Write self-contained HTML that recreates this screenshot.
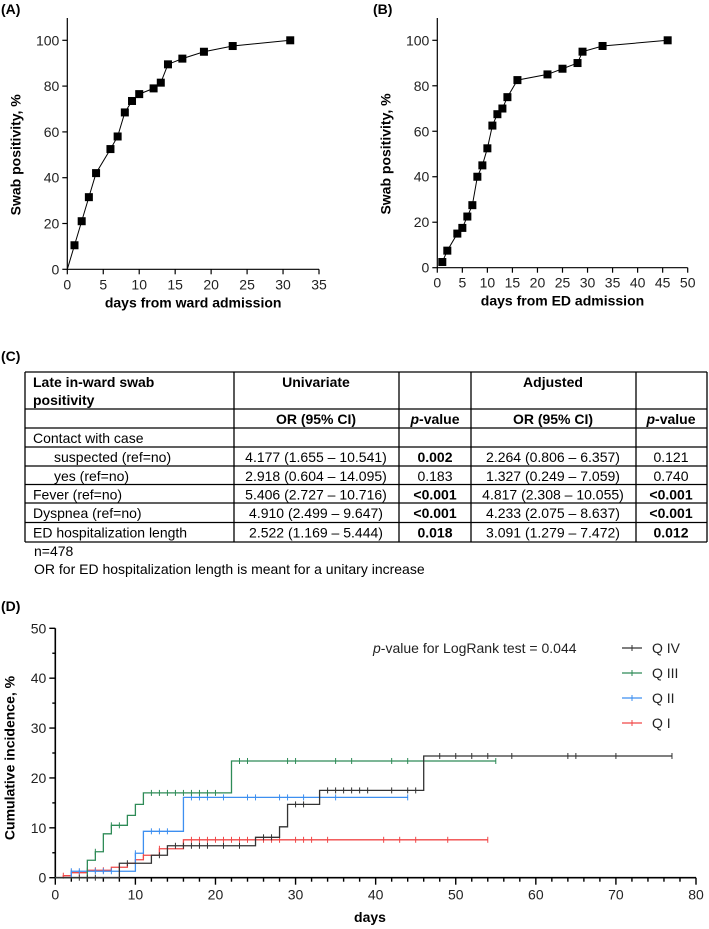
<!DOCTYPE html>
<html><head><meta charset="utf-8"><style>
html,body{margin:0;padding:0;background:#fff;}
svg{display:block;font-family:"Liberation Sans",Arial,sans-serif;}
</style></head><body>
<svg id="fig" width="709" height="929" viewBox="0 0 709 929">
<g id="A"></g>
<g id="B"></g>
<g id="C"></g>
<g id="D"></g>
</svg>
<script>
// Panel A data
const aDays = [1,2,3,4,6,7,8,9,10,12,13,14,16,19,23,31];
const aPos = [10.5,21,31.5,42,52.5,58,68.5,73.5,76.5,79,81.5,89.5,92,95,97.5,100];
const aXTicks = [0,5,10,15,20,25,30,35];
const yTicksAB = [0,20,40,60,80,100];
// Panel B data
const bDays = [1,2,4,5,6,7,8,9,10,11,12,13,14,16,22,25,28,29,33,46];
const bPos = [2.5,7.5,15,17.5,22.5,27.5,40,45,52.5,62.5,67.5,70,75,82.5,85,87.5,90,95,97.5,100];
const bXTicks = [0,5,10,15,20,25,30,35,40,45,50];
// Panel D data (step times and cumulative incidence)
const q4Times = [8,12,14,25,28,29,33,46];
const q4Vals = [2.9,4.5,6.4,8.1,10.2,14.7,17.5,24.4];
const q4End = 77;
const q4Cens = [3,4,5,9,13,15,16,17,18,19,21,23,26,27,30,31,34,35,36,37,38,39,42,44,45,48,50,52,54,57,64,65,70,77];
const q3Times = [4,5,6,7,9,10,11,22];
const q3Vals = [3.5,5.2,8.8,10.5,12.5,14.7,17,23.4];
const q3End = 55;
const q3Cens = [5,7,8,12,13,14,15,16,17,18,19,20,23,24,29,30,35,37,42,44,55];
const q2Times = [2,10,11,16];
const q2Vals = [1.3,4.9,9.3,16.1];
const q2End = 44;
const q2Cens = [2,3,4,5,6,7,10,12,13,14,17,18,19,21,24,25,28,29,31,33,35,44];
const q1Times = [1,2,4,7,9,10,11,13,16];
const q1Vals = [0.4,1.0,1.5,2.1,2.9,3.6,4.5,5.8,7.6];
const q1End = 54;
const q1Cens = [1,2,3,4,5,6,8,11,13,17,18,19,20,21,22,23,24,26,27,28,30,31,32,34,41,43,45,49,54];
const dXTicks = [0,10,20,30,40,50,60,70,80];
const dYTicks = [0,10,20,30,40,50];

const NS="http://www.w3.org/2000/svg";
function mk(parent,tag,attrs,txt){const e=document.createElementNS(NS,tag);for(const k in attrs)e.setAttribute(k,attrs[k]);if(txt!==undefined)e.textContent=txt;parent.appendChild(e);return e;}

function scatterPanel(g,label,labelX,x0,x1,xmax,y0,y100,ytop,days,vals,xt,xtitle,startOrigin){
  const sx=d=>x0+(x1-x0)*d/xmax, sy=v=>y0-(y0-y100)*v/100;
  let t=mk(g,'text',{x:labelX,y:14,'font-size':14,'font-weight':'bold'},label);
  
  
  let ax=mk(g,'path',{d:`M${x0},${ytop}V${y0}H${x1}`,stroke:'#000','stroke-width':1.2,fill:'none'});
  
  
  yTicksAB.forEach(v=>{
    const tk=mk(g,'line',{x1:x0-5,x2:x0,y1:sy(v),y2:sy(v),stroke:'#000','stroke-width':1.2});
    
    
    const tl=mk(g,'text',{x:x0-8,y:sy(v)+5,'font-size':14,'text-anchor':'end',fill:'#222'},v);
    
    
  });
  xt.forEach(v=>{
    const tk=mk(g,'line',{x1:sx(v),x2:sx(v),y1:y0,y2:y0+5,stroke:'#000','stroke-width':1.2});
    
    
    const tl=mk(g,'text',{x:sx(v),y:y0+20,'font-size':14,'text-anchor':'middle',fill:'#222'},v);
    
    
  });
  const yt=mk(g,'text',{transform:`translate(${x0-47},${(y0+y100)/2}) rotate(-90)`,'font-size':14,'font-weight':'bold','text-anchor':'middle'},'Swab positivity, %');
  
  
  const xtt=mk(g,'text',{x:(x0+x1)/2,y:y0+38,'font-size':14,'font-weight':'bold','text-anchor':'middle'},xtitle);
  
  
  let d=startOrigin?`M${sx(0)},${sy(0)}`:'';
  days.forEach((x,i)=>{d+=(d?'L':'M')+sx(x)+','+sy(vals[i]);});
  const ln=mk(g,'path',{d:d,stroke:'#000','stroke-width':1,fill:'none'});
  
  
  days.forEach((x,i)=>{
    const r=mk(g,'rect',{x:sx(x)-4,y:sy(vals[i])-4,width:8,height:8,fill:'#000'});
    
    
  });
}
scatterPanel(document.getElementById('A'),'(A)',1,67.3,319,35,269.3,40.3,18,aDays,aPos,aXTicks,'days from ward admission',true);
scatterPanel(document.getElementById('B'),'(B)',373,437.3,687.7,50,267.7,40.3,18,bDays,bPos,bXTicks,'days from ED admission',false);

// Panel C table
(function(){
  const g=document.getElementById('C');
  const L=mk(g,'text',{x:1,y:361,'font-size':14,'font-weight':'bold'},'(C)');
  
  
  const cols=[25,234,399,471,636,707];
  const rows=[372,409,428,447,466,484.5,503,522.5,542];
  rows.forEach(y=>{const l=mk(g,'line',{x1:25,x2:707,y1:y,y2:y,stroke:'#000','stroke-width':1.3});});
  cols.forEach(x=>{const l=mk(g,'line',{x1:x,x2:x,y1:372,y2:542,stroke:'#000','stroke-width':1.3});});
  function cell(txt,x,y,anchor,bold,name){
    const t=mk(g,'text',{x:x,y:y,'font-size':14,'text-anchor':anchor,'font-weight':bold?'bold':'normal'});
    t.innerHTML=txt;
    
    
  }
  cell('Late in-ward swab',33,387,'start',1,'table-title');
  cell('positivity',33,405,'start',1,'table-title');
  cell('Univariate',316,387,'middle',1,'header-univariate');
  cell('Adjusted',553,387,'middle',1,'header-adjusted');
  cell('OR (95% CI)',316,424,'middle',1,'header-or');
  cell('<tspan font-style="italic">p</tspan>-value',435,424,'middle',1,'header-pvalue');
  cell('OR (95% CI)',553,424,'middle',1,'header-or');
  cell('<tspan font-style="italic">p</tspan>-value',671,424,'middle',1,'header-pvalue');
  const data=[
    ['Contact with case','','','','',0,0,0],
    ['suspected (ref=no)','4.177 (1.655 – 10.541)','0.002','2.264 (0.806 – 6.357)','0.121',1,1,0],
    ['yes (ref=no)','2.918 (0.604 – 14.095)','0.183','1.327 (0.249 – 7.059)','0.740',1,0,0],
    ['Fever (ref=no)','5.406 (2.727 – 10.716)','&lt;0.001','4.817 (2.308 – 10.055)','&lt;0.001',0,1,1],
    ['Dyspnea (ref=no)','4.910 (2.499 – 9.647)','&lt;0.001','4.233 (2.075 – 8.637)','&lt;0.001',0,1,1],
    ['ED hospitalization length','2.522 (1.169 – 5.444)','0.018','3.091 (1.279 – 7.472)','0.012',0,1,1]];
  data.forEach((r,i)=>{
    const y=rows[i+2]+15;
    cell(r[0],r[5]?54:33,y,'start',0,'row-label');
    cell(r[1],316,y,'middle',0,'univariate-or');
    cell(r[2],435,y,'middle',r[6],'univariate-p');
    cell(r[3],553,y,'middle',0,'adjusted-or');
    cell(r[4],671,y,'middle',r[7],'adjusted-p');
  });
  cell('n=478',34,556,'start',0,'table-note-n');
  cell('OR for ED hospitalization length is meant for a unitary increase',34,574,'start',0,'table-note-or');
})();

// Panel D KM
(function(){
  const g=document.getElementById('D');
  const x0=55.3,x1=696,y0=877.7,y50=628.3;
  const sx=d=>x0+(x1-x0)*d/80, sy=v=>y0-(y0-y50)*v/50;
  const L=mk(g,'text',{x:1,y:611,'font-size':14,'font-weight':'bold'},'(D)');
  
  
  const ax=mk(g,'path',{d:`M${x0},${y50}V${y0}H${x1}`,stroke:'#000','stroke-width':1.6,fill:'none'});
  
  
  for(let v=0;v<=50;v+=5){const tk=mk(g,'line',{x1:x0-(v%10?3:6),x2:x0,y1:sy(v),y2:sy(v),stroke:'#000','stroke-width':1.4});}
  dYTicks.forEach(v=>{const tl=mk(g,'text',{x:x0-9,y:sy(v)+5,'font-size':14,'text-anchor':'end',fill:'#222'},v);});
  for(let v=0;v<=80;v+=2){const tk=mk(g,'line',{x1:sx(v),x2:sx(v),y1:y0,y2:y0+(v%10?4:7),stroke:'#000','stroke-width':1.4});}
  dXTicks.forEach(v=>{const tl=mk(g,'text',{x:sx(v),y:y0+22,'font-size':14,'text-anchor':'middle',fill:'#222'},v);});
  const yt=mk(g,'text',{transform:`translate(${x0-41},${(y0+y50)/2+5}) rotate(-90)`,'font-size':14,'font-weight':'bold','text-anchor':'middle'},'Cumulative incidence, %');
  
  
  const xt=mk(g,'text',{x:370,y:922,'font-size':14,'font-weight':'bold','text-anchor':'middle'},'days');
  
  
  const pv=mk(g,'text',{x:373,y:653,'font-size':14,fill:'#222'});
  pv.innerHTML='<tspan font-style="italic">p</tspan>-value for LogRank test = 0.044';
  
  
  function valAt(times,vals,t){let v=0;times.forEach((tt,i)=>{if(tt<=t)v=vals[i];});return v;}
  const series=[
    ['q4','#333',q4Times,q4Vals,q4End,q4Cens,'Q IV'],
    ['q3','#2e8b57',q3Times,q3Vals,q3End,q3Cens,'Q III'],
    ['q2','#3d8ff0',q2Times,q2Vals,q2End,q2Cens,'Q II'],
    ['q1','#f04848',q1Times,q1Vals,q1End,q1Cens,'Q I']];
  [3,2,1,0].forEach(k=>{
    const [id,c,times,vals,end,cens]=series[k];
    let d=`M${sx(0)},${sy(0)}`;
    times.forEach((t,i)=>{d+=`H${sx(t)}V${sy(vals[i])}`;});
    d+=`H${sx(end)}`;
    const p=mk(g,'path',{d:d,stroke:c,'stroke-width':1.3,fill:'none'});
    
    
    cens.forEach(t=>{
      const y=sy(valAt(times,vals,t));
      const m=mk(g,'line',{x1:sx(t),x2:sx(t),y1:y-3,y2:y+3,stroke:c,'stroke-width':1});
      
      
    });
  });
  series.forEach((s,i)=>{
    const y=648+i*25;
    const lg=mk(g,'g',{});
    
    
    mk(lg,'line',{x1:622,x2:642,y1:y,y2:y,stroke:s[1],'stroke-width':1.3});
    mk(lg,'line',{x1:632,x2:632,y1:y-3,y2:y+3,stroke:s[1],'stroke-width':1});
    mk(lg,'text',{x:652,y:y+5,'font-size':14,fill:'#222'},s[6]);
  });
})();
</script>
</body></html>
